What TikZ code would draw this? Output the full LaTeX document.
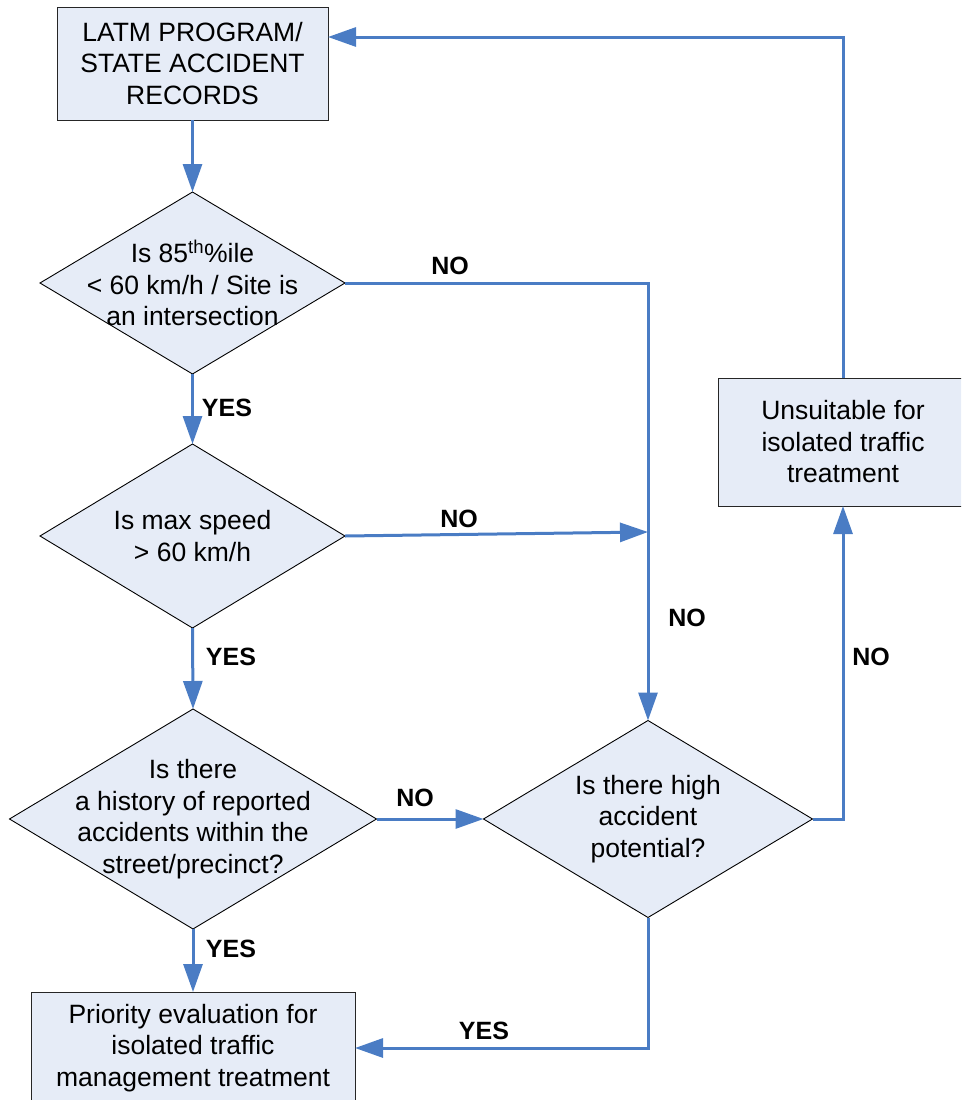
\documentclass[tikz,border=0pt]{standalone}
\usepackage{fontspec}
\setmainfont{Liberation Sans}
\usetikzlibrary{arrows.meta,shapes.geometric}
\definecolor{boxfill}{HTML}{E6ECF7}
\definecolor{flow}{HTML}{4A7CC4}
\begin{document}
\begin{tikzpicture}[x=1pt,y=-1pt,
 box/.style={draw=black!85,line width=1pt,fill=boxfill,rectangle,inner sep=0pt,outer sep=0pt,align=center,font=\fontsize{26.5}{31.5}\selectfont},
 dia/.style={draw=black,line width=0.9pt,fill=boxfill,diamond,inner sep=0pt,outer sep=0pt},
 dtext/.style={align=center,font=\fontsize{26.5}{31.5}\selectfont,inner sep=0pt},
 lbl/.style={font=\bfseries\fontsize{25}{30}\selectfont,inner sep=0pt},
 flowline/.style={draw=flow,line width=3pt,-{Triangle[length=28pt,width=19pt]}}]
\useasboundingbox (0,0) rectangle (961,1100);
\clip (0,0) rectangle (961,1100);

\node[box,minimum width=271pt,minimum height=113pt] (top) at (192.5,63.5) {LATM PROGRAM/\\STATE ACCIDENT\\RECORDS};
\node[dia,minimum width=305pt,minimum height=182pt] (d1) at (192.5,283) {};
\node[dtext] (t1) at (d1) {Is 85\textsuperscript{th}\%ile\\< 60 km/h / Site is\\an intersection};
\node[dia,minimum width=305pt,minimum height=184pt] (d2) at (192.5,536) {};
\node[dtext] (t2) at (d2) {Is max speed\\> 60 km/h};
\node[dia,minimum width=367pt,minimum height=220pt] (d3) at (193,819) {};
\node[dtext] (t3) at (d3) {Is there\\a history of reported\\accidents within the\\street/precinct?};
\node[dia,minimum width=329pt,minimum height=197pt] (d4) at (648,819) {};
\node[dtext] (t4) at (d4) {Is there high\\accident\\potential?};
\node[box,minimum width=250pt,minimum height=128pt] (uns) at (843,442) {Unsuitable for\\isolated traffic\\treatment};
\node[box,minimum width=324pt,minimum height=112pt] (bot) at (193,1048) {Priority evaluation for\\isolated traffic\\management treatment};

\coordinate (j2) at (648,532);
\draw[flowline] (top.south) -- (d1.north);
\draw[flowline] (d1.east) -| (d4.north);
\draw[flowline] (d1.south) -- (d2.north);
\draw[flowline] (d2.east) -- (j2);
\draw[flowline] (d2.south) -- (d3.north);
\draw[flowline] (d3.east) -- (d4.west);
\draw[flowline] (d3.south) -- (bot.north);
\draw[flowline] (d4.east) -| (uns.south);
\draw[flowline] (uns.north) |- ([yshift=-30pt]top.north east);
\draw[flowline] (d4.south) |- (bot.east);

\node[lbl] (n1) at (450,266) {NO};
\node[lbl] (y1) at (227,408) {YES};
\node[lbl] (n2) at (459,519) {NO};
\node[lbl] (y2) at (231,657) {YES};
\node[lbl] (n3) at (687,618) {NO};
\node[lbl] (n4) at (871,657) {NO};
\node[lbl] (n5) at (415,798) {NO};
\node[lbl] (y3) at (231,949) {YES};
\node[lbl] (y4) at (484,1031) {YES};
\end{tikzpicture}
\end{document}
